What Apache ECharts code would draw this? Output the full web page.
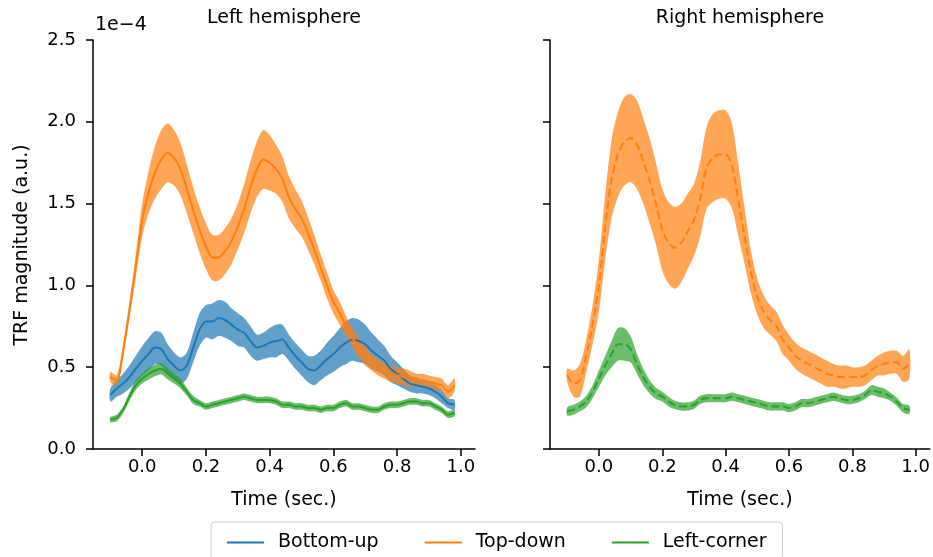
<!DOCTYPE html>
<html>
<head>
<meta charset="utf-8">
<script src="https://cdn.jsdelivr.net/npm/echarts@6/dist/echarts.min.js"></script>
<style>
  html, body { margin: 0; padding: 0; background: #ffffff; }
  #chart { width: 933px; height: 557px; }
</style>
</head>
<body>
<div id="chart"></div>
<script>
// Time samples (seconds) shared by every response curve
const time = [-0.10, -0.08, -0.06, -0.04, -0.02, 0.00, 0.02, 0.04, 0.06, 0.08,
              0.10, 0.12, 0.14, 0.16, 0.18, 0.20, 0.22, 0.24, 0.26, 0.28,
              0.30, 0.32, 0.34, 0.36, 0.38, 0.40, 0.42, 0.44, 0.46, 0.48,
              0.50, 0.52, 0.54, 0.56, 0.58, 0.60, 0.62, 0.64, 0.66, 0.68,
              0.70, 0.72, 0.74, 0.76, 0.78, 0.80, 0.82, 0.84, 0.86, 0.88,
              0.90, 0.92, 0.94, 0.96, 0.98];

// Series names (legend order)
const seriesNames = ['Bottom-up', 'Top-down', 'Left-corner'];

// Axis tick values; magnitudes are in units of 1e-4
const xTicks = [0.0, 0.2, 0.4, 0.6, 0.8, 1.0];
const yTicks = [0.0, 0.5, 1.0, 1.5, 2.0, 2.5];

// Left hemisphere: mean TRF magnitude and half-width of the shaded band
const leftBottomUpMean = [0.33, 0.37, 0.40, 0.44, 0.49, 0.54, 0.58, 0.62, 0.61, 0.55,
                          0.51, 0.48, 0.51, 0.62, 0.73, 0.78, 0.78, 0.80, 0.79, 0.76,
                          0.73, 0.71, 0.66, 0.62, 0.63, 0.65, 0.66, 0.67, 0.62, 0.57,
                          0.53, 0.49, 0.48, 0.51, 0.55, 0.58, 0.62, 0.65, 0.67, 0.66,
                          0.64, 0.60, 0.57, 0.54, 0.49, 0.46, 0.43, 0.40, 0.39, 0.38,
                          0.37, 0.35, 0.32, 0.28, 0.27];
const leftBottomUpSpread = [0.04, 0.05, 0.06, 0.07, 0.08, 0.09, 0.10, 0.10, 0.10, 0.09,
                            0.08, 0.08, 0.08, 0.09, 0.10, 0.10, 0.11, 0.11, 0.11, 0.10,
                            0.10, 0.09, 0.09, 0.08, 0.08, 0.09, 0.10, 0.09, 0.08, 0.08,
                            0.08, 0.08, 0.09, 0.09, 0.10, 0.11, 0.12, 0.13, 0.13, 0.13,
                            0.12, 0.11, 0.10, 0.09, 0.08, 0.07, 0.06, 0.05, 0.05, 0.04,
                            0.04, 0.04, 0.04, 0.03, 0.03];

const leftTopDownMean = [0.44, 0.42, 0.60, 0.85, 1.12, 1.40, 1.57, 1.69, 1.77, 1.81,
                         1.78, 1.71, 1.59, 1.46, 1.34, 1.24, 1.17, 1.17, 1.21, 1.27,
                         1.36, 1.47, 1.60, 1.71, 1.77, 1.75, 1.71, 1.65, 1.54, 1.47,
                         1.41, 1.32, 1.22, 1.11, 1.00, 0.90, 0.83, 0.75, 0.68, 0.62,
                         0.57, 0.53, 0.50, 0.48, 0.46, 0.45, 0.44, 0.43, 0.42, 0.42,
                         0.41, 0.40, 0.39, 0.35, 0.39];
const leftTopDownSpread = [0.03, 0.03, 0.04, 0.05, 0.07, 0.10, 0.13, 0.16, 0.18, 0.18,
                           0.17, 0.16, 0.15, 0.14, 0.14, 0.14, 0.14, 0.14, 0.14, 0.14,
                           0.14, 0.15, 0.16, 0.17, 0.18, 0.17, 0.15, 0.14, 0.13, 0.12,
                           0.11, 0.10, 0.09, 0.08, 0.08, 0.07, 0.07, 0.06, 0.06, 0.06,
                           0.06, 0.05, 0.05, 0.05, 0.05, 0.05, 0.05, 0.05, 0.04, 0.04,
                           0.04, 0.04, 0.04, 0.04, 0.04];

const leftLeftCornerMean = [0.18, 0.19, 0.24, 0.32, 0.39, 0.43, 0.46, 0.48, 0.49, 0.46,
                            0.43, 0.40, 0.35, 0.30, 0.28, 0.26, 0.27, 0.28, 0.29, 0.30,
                            0.31, 0.32, 0.31, 0.30, 0.30, 0.30, 0.29, 0.27, 0.27, 0.26,
                            0.26, 0.25, 0.25, 0.24, 0.25, 0.25, 0.27, 0.28, 0.26, 0.26,
                            0.25, 0.24, 0.24, 0.26, 0.27, 0.27, 0.28, 0.29, 0.29, 0.28,
                            0.28, 0.26, 0.24, 0.21, 0.22];
const leftLeftCornerSpread = [0.015, 0.02, 0.02, 0.025, 0.03, 0.03, 0.035, 0.035, 0.035, 0.035,
                              0.03, 0.03, 0.025, 0.025, 0.02, 0.02, 0.02, 0.02, 0.02, 0.02,
                              0.02, 0.02, 0.02, 0.02, 0.02, 0.02, 0.02, 0.02, 0.02, 0.02,
                              0.02, 0.02, 0.02, 0.02, 0.02, 0.02, 0.02, 0.02, 0.02, 0.02,
                              0.02, 0.02, 0.02, 0.02, 0.02, 0.02, 0.02, 0.02, 0.02, 0.02,
                              0.02, 0.02, 0.02, 0.02, 0.02];

// Right hemisphere
const rightTopDownMean = [0.45, 0.40, 0.42, 0.57, 0.76, 1.00, 1.36, 1.65, 1.80, 1.88,
                          1.90, 1.86, 1.76, 1.64, 1.50, 1.34, 1.26, 1.23, 1.26, 1.33,
                          1.40, 1.53, 1.72, 1.78, 1.80, 1.80, 1.73, 1.52, 1.30, 1.08,
                          0.93, 0.84, 0.79, 0.75, 0.67, 0.62, 0.57, 0.54, 0.52, 0.50,
                          0.48, 0.46, 0.45, 0.44, 0.44, 0.44, 0.44, 0.45, 0.48, 0.51,
                          0.52, 0.53, 0.53, 0.49, 0.52];
const rightTopDownSpread = [0.04, 0.08, 0.10, 0.10, 0.12, 0.16, 0.20, 0.24, 0.26, 0.27,
                            0.27, 0.27, 0.26, 0.26, 0.25, 0.25, 0.25, 0.25, 0.24, 0.23,
                            0.22, 0.23, 0.25, 0.27, 0.27, 0.27, 0.26, 0.22, 0.17, 0.13,
                            0.11, 0.10, 0.09, 0.09, 0.09, 0.08, 0.08, 0.08, 0.08, 0.08,
                            0.08, 0.08, 0.07, 0.07, 0.07, 0.06, 0.06, 0.06, 0.06, 0.06,
                            0.07, 0.07, 0.07, 0.08, 0.09];

const rightLeftCornerMean = [0.23, 0.24, 0.26, 0.29, 0.35, 0.43, 0.51, 0.58, 0.64, 0.64,
                             0.61, 0.52, 0.44, 0.38, 0.34, 0.32, 0.29, 0.27, 0.26, 0.26,
                             0.27, 0.30, 0.31, 0.31, 0.31, 0.31, 0.32, 0.31, 0.30, 0.29,
                             0.28, 0.27, 0.26, 0.26, 0.26, 0.25, 0.26, 0.28, 0.28, 0.29,
                             0.30, 0.31, 0.32, 0.31, 0.30, 0.30, 0.31, 0.33, 0.36, 0.35,
                             0.34, 0.32, 0.29, 0.25, 0.24];
const rightLeftCornerSpread = [0.025, 0.03, 0.03, 0.035, 0.04, 0.05, 0.06, 0.08, 0.10, 0.10,
                               0.08, 0.06, 0.05, 0.04, 0.035, 0.03, 0.03, 0.025, 0.025, 0.025,
                               0.025, 0.025, 0.025, 0.025, 0.025, 0.025, 0.025, 0.025, 0.025, 0.025,
                               0.025, 0.025, 0.025, 0.025, 0.025, 0.025, 0.025, 0.025, 0.025, 0.025,
                               0.025, 0.025, 0.025, 0.025, 0.025, 0.025, 0.025, 0.025, 0.03, 0.03,
                               0.03, 0.025, 0.025, 0.025, 0.025];

const FONT = 'DejaVu Sans';
const COLOR = { 'Bottom-up': '#1f77b4', 'Top-down': '#ff7f0e', 'Left-corner': '#2ca02c' };
const SMOOTH = 0.3;

// Shaded band drawn as one polygon: upper edge left-to-right, lower edge back
function band(mean, spread, color, panel) {
  const rows = time.map((t, i) => [t, mean[i] - spread[i], mean[i] + spread[i]]);
  return {
    type: 'custom', xAxisIndex: panel, yAxisIndex: panel, silent: true,
    data: rows,
    encode: { x: 0, y: [1, 2] },
    renderItem: function (params, api) {
      if (params.dataIndex !== 0) return null;
      const pts = [];
      for (let i = 0; i < rows.length; i++) pts.push(api.coord([rows[i][0], rows[i][2]]));
      for (let i = rows.length - 1; i >= 0; i--) pts.push(api.coord([rows[i][0], rows[i][1]]));
      return {
        type: 'polygon',
        shape: { points: pts, smooth: SMOOTH },
        style: { fill: color, opacity: 0.7 }
      };
    }
  };
}

function meanLine(name, mean, panel, dashed) {
  return {
    name: name, type: 'line', xAxisIndex: panel, yAxisIndex: panel,
    data: time.map((t, i) => [t, mean[i]]),
    symbol: 'none', silent: true, smooth: SMOOTH,
    lineStyle: { color: COLOR[name], width: 2, type: dashed ? [8, 4] : 'solid' },
    itemStyle: { color: COLOR[name] }
  };
}

const series = [
  band(leftBottomUpMean, leftBottomUpSpread, COLOR['Bottom-up'], 0),
  meanLine('Bottom-up', leftBottomUpMean, 0, false),
  band(leftTopDownMean, leftTopDownSpread, COLOR['Top-down'], 0),
  meanLine('Top-down', leftTopDownMean, 0, false),
  band(leftLeftCornerMean, leftLeftCornerSpread, COLOR['Left-corner'], 0),
  meanLine('Left-corner', leftLeftCornerMean, 0, false),
  band(rightTopDownMean, rightTopDownSpread, COLOR['Top-down'], 1),
  meanLine('Top-down', rightTopDownMean, 1, true),
  band(rightLeftCornerMean, rightLeftCornerSpread, COLOR['Left-corner'], 1),
  meanLine('Left-corner', rightLeftCornerMean, 1, true)
];

const axisLine = { show: true, onZero: false, lineStyle: { color: '#000', width: 1.5 } };
const axisTick = { show: true, length: 7, lineStyle: { color: '#000', width: 1.5 } };
const tickFont = { fontFamily: FONT, fontSize: 18, color: '#000' };

function xAxis(idx) {
  return {
    type: 'value', gridIndex: idx, min: -0.1545, max: 1.0445,
    name: 'Time (sec.)', nameLocation: 'middle', nameGap: 42,
    nameTextStyle: { fontFamily: FONT, fontSize: 19, color: '#000' },
    axisLine: axisLine,
    axisTick: Object.assign({}, axisTick, { customValues: xTicks }),
    axisLabel: Object.assign({}, tickFont, {
      customValues: xTicks, margin: 9,
      formatter: v => v.toFixed(1)
    }),
    splitLine: { show: false }
  };
}

function yAxis(idx, labels) {
  return {
    type: 'value', gridIndex: idx, min: 0, max: 2.5, interval: 0.5,
    axisLine: axisLine,
    axisTick: Object.assign({}, axisTick, { customValues: yTicks }),
    axisLabel: Object.assign({}, tickFont, {
      show: labels, customValues: yTicks, margin: 17,
      formatter: v => v.toFixed(1)
    }),
    splitLine: { show: false }
  };
}

const textStyle = (extra) => Object.assign({ font: '19px "' + FONT + '"', fill: '#000' }, extra);

const option = {
  animation: false,
  backgroundColor: '#ffffff',
  grid: [
    { left: 93, top: 40, width: 382, height: 409, containLabel: false },
    { left: 550, top: 40, width: 380, height: 409, containLabel: false }
  ],
  xAxis: [xAxis(0), xAxis(1)],
  yAxis: [yAxis(0, true), yAxis(1, false)],
  legend: {
    data: seriesNames,
    left: 211, top: 522,
    icon: 'rect', itemWidth: 37, itemHeight: 2, itemGap: 46,
    padding: [11, 16, 8, 16],
    borderColor: '#cccccc', borderWidth: 1, borderRadius: 4,
    backgroundColor: '#ffffff',
    textStyle: { fontFamily: FONT, fontSize: 19, color: '#000', padding: [0, 0, 0, 9] }
  },
  graphic: [
    { type: 'text', x: 284, y: 18, silent: true,
      style: textStyle({ text: 'Left hemisphere', textAlign: 'center', textVerticalAlign: 'middle' }) },
    { type: 'text', x: 740, y: 18, silent: true,
      style: textStyle({ text: 'Right hemisphere', textAlign: 'center', textVerticalAlign: 'middle' }) },
    { type: 'text', x: 95, y: 25, silent: true,
      style: textStyle({ text: '1e\u22124', textAlign: 'left', textVerticalAlign: 'middle' }) },
    { type: 'text', x: 22, y: 245, rotation: Math.PI / 2, silent: true,
      style: textStyle({ text: 'TRF magnitude (a.u.)', textAlign: 'center', textVerticalAlign: 'middle' }) }
  ],
  series: series
};

const chart = echarts.init(document.getElementById('chart'));
chart.setOption(option);
</script>
</body>
</html>
